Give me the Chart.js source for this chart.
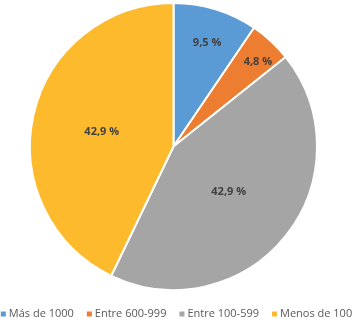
<!DOCTYPE html>
<html>
<head>
<meta charset="utf-8">
<script src="https://cdn.jsdelivr.net/npm/chart.js@4"></script>
<style>
  html, body { margin: 0; padding: 0; background: #fff; }
  #wrap { width: 353px; height: 323px; }
</style>
</head>
<body>
<div id="wrap"><canvas id="grafico"></canvas></div>
<script>
// Categorías y porcentajes
const categorias = ['Más de 1000', 'Entre 600-999', 'Entre 100-599', 'Menos de 100'];
const porcentajes = [9.5, 4.8, 42.9, 42.9];
const etiquetas = ['9,5 %', '4,8 %', '42,9 %', '42,9 %'];
const colores = ['#5B9BD5', '#ED7D31', '#A5A5A5', '#FDBA2C'];

// Plugin simple para escribir el porcentaje dentro de cada porción
const etiquetasPlugin = {
    id: 'etiquetasPorcion',
    afterDatasetsDraw(chart, args, opts) {
        const ctx = chart.ctx;
        const meta = chart.getDatasetMeta(0);
        ctx.save();
        ctx.font = 'bold 11px "Open Sans"';
        ctx.fillStyle = '#404040';
        ctx.textAlign = 'center';
        ctx.textBaseline = 'middle';
        meta.data.forEach((arc, i) => {
            const p = arc.getProps(['x', 'y', 'startAngle', 'endAngle', 'outerRadius'], true);
            const ang = (p.startAngle + p.endAngle) / 2 + (opts.giro[i] || 0);
            const r = p.outerRadius * opts.radio[i];
            ctx.fillText(etiquetas[i], p.x + Math.cos(ang) * r, p.y + Math.sin(ang) * r);
        });
        ctx.restore();
    }
};

// Leyenda dibujada a mano para que entre en una sola fila como en el original
const leyendaPlugin = {
    id: 'leyendaFila',
    afterDraw(chart, args, opts) {
        const ctx = chart.ctx;
        const labels = chart.data.labels;
        const cols = chart.data.datasets[0].backgroundColor;
        ctx.save();
        ctx.font = opts.fuente;
        ctx.textBaseline = 'middle';
        const anchos = labels.map(t => ctx.measureText(t).width);
        const total = anchos.reduce((a, b) => a + b, 0) + labels.length * (opts.caja + opts.sep) + (labels.length - 1) * opts.hueco;
        let x = (chart.width - total) / 2;
        labels.forEach((t, i) => {
            ctx.fillStyle = cols[i];
            ctx.fillRect(x, opts.y - opts.caja / 2, opts.caja, opts.caja);
            x += opts.caja + opts.sep;
            ctx.fillStyle = opts.color;
            ctx.fillText(t, x, opts.y);
            x += anchos[i] + opts.hueco;
        });
        ctx.restore();
    }
};

new Chart(document.getElementById('grafico'), {
    type: 'pie',
    data: {
        labels: categorias,
        datasets: [{
            data: porcentajes,
            backgroundColor: colores,
            borderColor: '#ffffff',
            borderWidth: 2
        }]
    },
    options: {
        responsive: true,
        maintainAspectRatio: false,
        animation: false,
        layout: { padding: { top: 2, bottom: 32, left: 0, right: 6 } },
        plugins: {
            tooltip: { enabled: false },
            legend: { display: false },
            etiquetasPorcion: {
                radio: [0.76, 0.835, 0.5, 0.51],
                giro: [0.015, 0.035, 0.02, -0.026]
            },
            leyendaFila: {
                fuente: '11px "Open Sans"',
                color: '#595959',
                caja: 5,
                sep: 3,
                hueco: 13,
                y: 314
            }
        }
    },
    plugins: [etiquetasPlugin, leyendaPlugin]
});
</script>
</body>
</html>
